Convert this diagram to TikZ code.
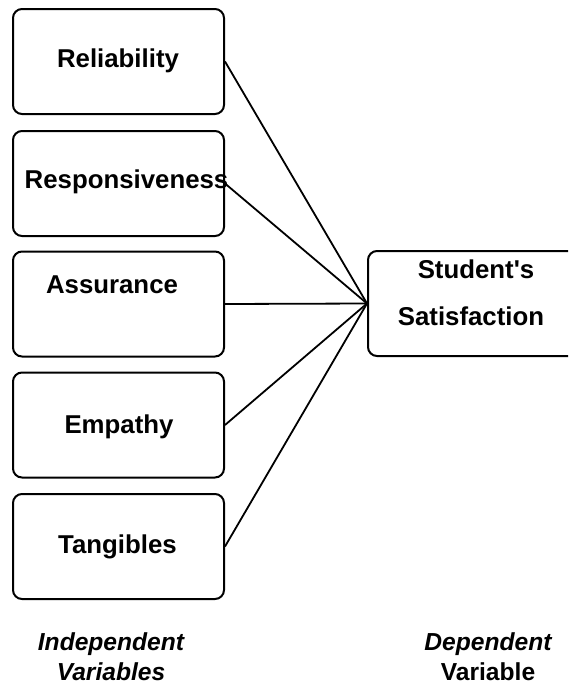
\documentclass[tikz,border=0pt]{standalone}
\usepackage{fontspec}
\setmainfont{Liberation Sans}
\begin{document}
\begin{tikzpicture}[x=0.5pt, y=-0.5pt, >=latex,
    box/.style={draw, line width=1pt, rounded corners=4.5pt, inner sep=0pt,
                minimum width=105.5pt, minimum height=52.5pt},
    boxtxt/.style={font=\fontsize{12.9}{15}\selectfont\bfseries, inner sep=0pt, anchor=base},
    captxt/.style={font=\fontsize{12.3}{15}\selectfont\bfseries, inner sep=0pt, anchor=base},
    link/.style={line width=0.9pt}]
    % Khung hình
    \useasboundingbox (0,0) rectangle (568,685);
    \clip (0,0) rectangle (568,685);
    % Các biến độc lập
    \node[box] (rel) at (118.5,61.5) {};
    \node[box] (res) at (118.5,183.5) {};
    \node[box] (ass) at (118.5,304) {};
    \node[box] (emp) at (118.5,425) {};
    \node[box] (tan) at (118.5,546.5) {};
    \node[boxtxt] (relt) at (118,67) {Reliability};
    \node[boxtxt] (rest) at (126.5,188) {Responsiveness};
    \node[boxtxt] (asst) at (112,293) {Assurance};
    \node[boxtxt] (empt) at (119,433) {Empathy};
    \node[boxtxt] (tant) at (117.5,553) {Tangibles};
    % Biến phụ thuộc
    \node[box, minimum width=110pt, anchor=west] (sat) at (367,303.5) {};
    \node[boxtxt] (satt1) at (476,278) {Student\textquotesingle s};
    \node[boxtxt] (satt2) at (471,325) {Satisfaction};
    % Các đường nối
    \draw[link] (rel.east) -- (sat.west);
    \draw[link] (res.east) -- (sat.west);
    \draw[link] (ass.east) -- (sat.west);
    \draw[link] (emp.east) -- (sat.west);
    \draw[link] (tan.east) -- (sat.west);
    % Chú thích
    \node[captxt] (ind1) at (111,650) {\itshape Independent};
    \node[captxt] (ind2) at (111,680) {\itshape Variables};
    \node[captxt] (dep1) at (488,650) {\itshape Dependent};
    \node[captxt] (dep2) at (488,680) {Variable};
\end{tikzpicture}
\end{document}
